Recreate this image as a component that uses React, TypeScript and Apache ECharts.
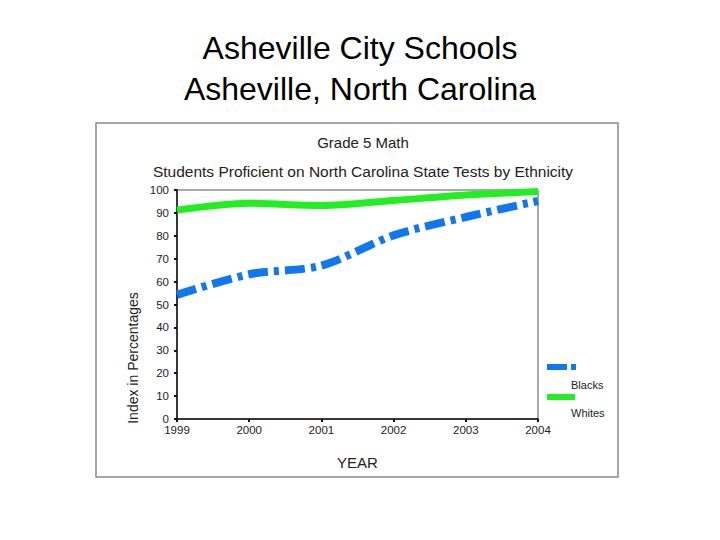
import React, { useEffect, useRef } from "react";
import * as echarts from "echarts";

const years = ["1999", "2000", "2001", "2002", "2003", "2004"];
const blacks = [54.2, 63.2, 67, 80.2, 88.2, 95.2];
const whites = [91.2, 94.2, 93.2, 95.4, 97.8, 99.3];
const seriesNames = ["Blacks", "Whites"];
const blue = "#1177ee";
const green = "#22ee22";

export default function App() {
  const ref = useRef<HTMLDivElement>(null);
  useEffect(() => {
    const chart = echarts.init(ref.current!, null, { renderer: "svg" });
    const font = "Liberation Sans, Arial, sans-serif";
    chart.setOption({
      animation: false,
      backgroundColor: "#ffffff",
      textStyle: { fontFamily: font },
      title: [
        {
          text: "Asheville City Schools\nAsheville, North Carolina",
          left: "center",
          top: 22,
          textStyle: { fontSize: 32, fontWeight: "normal", color: "#000", lineHeight: 41, fontFamily: font },
        },
        {
          text: "Grade 5 Math",
          left: 358,
          textAlign: "center",
          top: 130,
          textStyle: { fontSize: 15, fontWeight: "normal", color: "#222", fontFamily: font },
        },
        {
          text: "Students Proficient on North Carolina State Tests by Ethnicity",
          left: 358,
          textAlign: "center",
          top: 158,
          textStyle: { fontSize: 15.5, fontWeight: "normal", color: "#222", fontFamily: font },
        },
      ],
      grid: {
        left: 177,
        right: 720 - 538,
        top: 190,
        bottom: 540 - 419,
        show: true,
        borderColor: "#555",
        borderWidth: 1,
        backgroundColor: "transparent",
      },
      xAxis: {
        type: "category",
        data: years,
        boundaryGap: false,
        name: "YEAR",
        nameLocation: "middle",
        nameGap: 36,
        nameTextStyle: { fontSize: 15, color: "#222", fontFamily: font },
        axisLine: { lineStyle: { color: "#111", width: 1.5 } },
        axisTick: { show: true, length: 3, lineStyle: { color: "#111", width: 2 }, alignWithLabel: true },
        axisLabel: { fontSize: 11.5, color: "#222", margin: 5, fontFamily: font },
        splitLine: { show: false },
      },
      yAxis: {
        type: "value",
        min: 0,
        max: 100,
        interval: 10,
        axisLine: { show: true, lineStyle: { color: "#111", width: 1.5 } },
        axisTick: { show: true, length: 3, lineStyle: { color: "#111", width: 2 } },
        axisLabel: { fontSize: 11.5, color: "#222", margin: 8, fontFamily: font },
        splitLine: { show: false },
      },
      series: [
        {
          name: seriesNames[0],
          type: "line",
          data: blacks,
          smooth: 0.3,
          symbol: "none",
          lineStyle: { color: blue, width: 8, type: [20, 6, 5, 6], cap: "butt" },
          z: 3,
        },
        {
          name: seriesNames[1],
          type: "line",
          data: whites,
          smooth: 0.3,
          symbol: "none",
          lineStyle: { color: green, width: 7 },
          z: 2,
        },
      ],
      graphic: [
        {
          type: "rect",
          shape: { x: 96, y: 123, width: 522, height: 354 },
          style: { fill: "none", stroke: "#8a8a8a", lineWidth: 1.5 },
          z: -1,
        },
        {
          type: "text",
          x: 133,
          y: 358,
          rotation: Math.PI / 2,
          style: {
            text: "Index in Percentages",
            fontSize: 14,
            fill: "#222",
            fontFamily: font,
            align: "center",
            verticalAlign: "middle",
          },
        },
        {
          type: "line",
          shape: { x1: 547, y1: 367, x2: 576, y2: 367 },
          style: { stroke: blue, lineWidth: 6, lineDash: [20, 4, 5, 100] },
        },
        {
          type: "text",
          x: 571,
          y: 385,
          style: { text: seriesNames[0], fontSize: 11, fill: "#222", fontFamily: font, verticalAlign: "middle" },
        },
        {
          type: "line",
          shape: { x1: 547, y1: 397, x2: 575, y2: 397 },
          style: { stroke: green, lineWidth: 6 },
        },
        {
          type: "text",
          x: 571,
          y: 413,
          style: { text: seriesNames[1], fontSize: 11, fill: "#222", fontFamily: font, verticalAlign: "middle" },
        },
      ],
    });
    return () => chart.dispose();
  }, []);
  return (
    <div
      ref={ref}
      style={{ position: "fixed", left: 0, top: 0, width: 720, height: 540 }}
    />
  );
}
